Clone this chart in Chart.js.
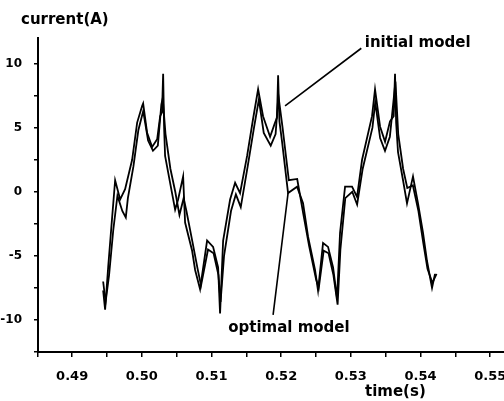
<!DOCTYPE html>
<html>
<head>
<meta charset="utf-8">
<script src="https://cdn.jsdelivr.net/npm/chart.js@4/dist/chart.umd.min.js"></script>
<style>
  body { margin: 0; background: #fff; }
  canvas { display: block; }
</style>
</head>
<body>
<canvas id="currentChart" width="504" height="401"></canvas>
<script>
// values
const timeInitial = [0.49445, 0.49473, 0.49517, 0.49574, 0.49617, 0.49689, 0.49760, 0.49861, 0.49933, 0.50004,
  0.50019, 0.50076, 0.50148, 0.50220, 0.50263, 0.50290, 0.50306, 0.50320, 0.50334, 0.50406, 0.50478, 0.50521,
  0.50593, 0.50621, 0.50722, 0.50765, 0.50836, 0.50937, 0.51023, 0.51095, 0.51123, 0.51167, 0.51267, 0.51339,
  0.51410, 0.51511, 0.51597, 0.51669, 0.51740, 0.51841, 0.51912, 0.51940, 0.51956, 0.51975, 0.52013, 0.52099,
  0.52228, 0.52314, 0.52386, 0.52486, 0.52529, 0.52601, 0.52673, 0.52745, 0.52802, 0.52845, 0.52917, 0.53017,
  0.53089, 0.53161, 0.53304, 0.53347, 0.53419, 0.53491, 0.53562, 0.53615, 0.53634, 0.53650, 0.53677, 0.53749,
  0.53806, 0.53892, 0.53964, 0.54036, 0.54093, 0.54165, 0.54208];
const currentInitial = [-7.7, -9.2, -5.9, -2.0, 0.9, -0.6, 0.2, 2.5, 5.4, 6.7,
  6.9, 4.6, 3.5, 4.1, 5.9, 6.2, 9.2, 5.0, 2.8, 0.7, -1.4, -0.6,
  1.2, -2.4, -4.6, -6.1, -7.6, -3.8, -4.3, -5.9, -9.5, -3.8, -0.6, 0.7,
  -0.1, 2.8, 5.7, 8.0, 5.9, 4.3, 5.4, 5.8, 9.1, 5.5, 3.9, -0.1,
  0.4, -0.9, -3.5, -6.1, -7.7, -4.0, -4.3, -5.9, -8.3, -3.2, 0.4, 0.4,
  -0.4, 2.5, 5.9, 8.0, 5.1, 3.9, 5.5, 5.9, 9.2, 5.4, 3.1, 0.9,
  -0.9, 1.2, -0.9, -3.2, -5.4, -7.5, -6.4];

const timeOptimal = [0.49445, 0.49480, 0.49530, 0.49590, 0.49650, 0.49720, 0.49770, 0.49800, 0.49880, 0.49950,
  0.50020, 0.50090, 0.50160, 0.50230, 0.50280, 0.50300, 0.50340, 0.50410, 0.50480, 0.50540, 0.50600, 0.50640,
  0.50730, 0.50800, 0.50850, 0.50950, 0.51030, 0.51100, 0.51130, 0.51180, 0.51280, 0.51350, 0.51420, 0.51520,
  0.51610, 0.51680, 0.51750, 0.51850, 0.51920, 0.51960, 0.52020, 0.52110, 0.52230, 0.52320, 0.52400, 0.52500,
  0.52540, 0.52610, 0.52680, 0.52750, 0.52810, 0.52850, 0.52920, 0.53020, 0.53090, 0.53170, 0.53310, 0.53350,
  0.53420, 0.53490, 0.53560, 0.53640, 0.53680, 0.53750, 0.53810, 0.53890, 0.53970, 0.54040, 0.54100, 0.54170,
  0.54230];
const currentOptimal = [-7.0, -8.6, -6.5, -3.0, -0.3, -1.5, -2.0, -0.5, 2.0, 4.8,
  6.3, 4.0, 3.2, 3.6, 6.8, 7.3, 4.5, 1.8, 0.0, -1.8, -0.5, -1.5,
  -4.0, -6.0, -7.3, -4.5, -4.8, -6.5, -8.6, -5.0, -1.5, -0.2, -1.2, 2.0,
  5.0, 7.2, 4.6, 3.6, 4.5, 7.5, 5.0, 0.9, 1.0, -1.8, -4.2, -6.8,
  -7.5, -4.6, -4.8, -6.5, -8.8, -4.5, -0.5, 0.0, -1.0, 1.8, 5.0, 7.0,
  4.2, 3.2, 4.3, 8.6, 4.5, 1.8, 0.3, 0.5, -1.5, -4.0, -6.0, -7.1,
  -6.4];

const xTicks = [0.485, 0.49, 0.495, 0.50, 0.505, 0.51, 0.515, 0.52, 0.525, 0.53, 0.535, 0.54, 0.545, 0.55];
const yTicks = [-12.5, -10, -7.5, -5, -2.5, 0, 2.5, 5, 7.5, 10];

const toPoints = (xs, ys) => xs.map((x, i) => ({ x: x, y: ys[i] }));

const boldFont = "'DejaVu Sans', sans-serif";

// labels, pointer lines and axis captions
const labelPlugin = {
  id: "labels",
  afterDraw(chart) {
    const ctx = chart.ctx;
    const xs = chart.scales.x, ys = chart.scales.y;
    const px = v => xs.getPixelForValue(v), py = v => ys.getPixelForValue(v);
    ctx.save();
    ctx.strokeStyle = "#000";
    ctx.lineWidth = 1.6;
    ctx.beginPath();
    ctx.moveTo(px(0.52056), py(6.7));
    ctx.lineTo(px(0.53150), py(11.2));
    ctx.moveTo(px(0.51884), py(-9.6));
    ctx.lineTo(px(0.52099), py(-0.1));
    ctx.stroke();

    ctx.fillStyle = "#000";
    ctx.font = "bold 15px " + boldFont;
    ctx.textBaseline = "middle";
    ctx.textAlign = "left";
    ctx.fillText("initial model", px(0.5320), py(11.6));
    ctx.fillText("optimal model", px(0.5124), py(-10.6));
    ctx.fillText("current(A)", 21, 20);
    ctx.fillText("time(s)", 365, 392);
    ctx.restore();
  }
};

new Chart(document.getElementById("currentChart"), {
  type: "scatter",
  data: {
    datasets: [
      {
        label: "initial model",
        data: toPoints(timeInitial, currentInitial),
        showLine: true,
        borderColor: "#000",
        borderWidth: 1.8,
        pointRadius: 0,
        tension: 0
      },
      {
        label: "optimal model",
        data: toPoints(timeOptimal, currentOptimal),
        showLine: true,
        borderColor: "#000",
        borderWidth: 1.8,
        pointRadius: 0,
        tension: 0
      }
    ]
  },
  options: {
    responsive: false,
    animation: false,
    layout: { padding: { left: 0, right: 0, top: 38, bottom: 0 } },
    plugins: {
      legend: { display: false },
      tooltip: { enabled: false }
    },
    scales: {
      x: {
        type: "linear",
        min: 0.4851,
        max: 0.55198,
        afterBuildTicks: axis => { axis.ticks = xTicks.map(v => ({ value: v })); },
        afterFit: axis => { axis.height = 49; axis.paddingRight = 0; axis.paddingLeft = 0; },
        border: { color: "#000", width: 2 },
        grid: { drawOnChartArea: false, drawTicks: true, tickLength: 5, color: "#000", lineWidth: 1.5 },
        ticks: {
          autoSkip: false,
          maxRotation: 0,
          padding: 12,
          color: "#000",
          font: { family: boldFont, size: 13, weight: "bold" },
          callback: v => (Math.abs(Math.round(v * 100) - v * 100) < 1e-6 ? v.toFixed(2) : "")
        }
      },
      y: {
        min: -12.5,
        max: 12,
        afterBuildTicks: axis => { axis.ticks = yTicks.map(v => ({ value: v })); },
        afterFit: axis => { axis.width = 38; axis.paddingTop = 0; axis.paddingBottom = 0; },
        border: { color: "#000", width: 2 },
        grid: { drawOnChartArea: false, drawTicks: true, tickLength: 4, color: "#000", lineWidth: 1.5 },
        ticks: {
          autoSkip: false,
          padding: 12,
          color: "#000",
          font: { family: boldFont, size: 12, weight: "bold" },
          callback: v => (v % 5 === 0 ? String(v) : "")
        }
      }
    }
  },
  plugins: [labelPlugin]
});
</script>
</body>
</html>
